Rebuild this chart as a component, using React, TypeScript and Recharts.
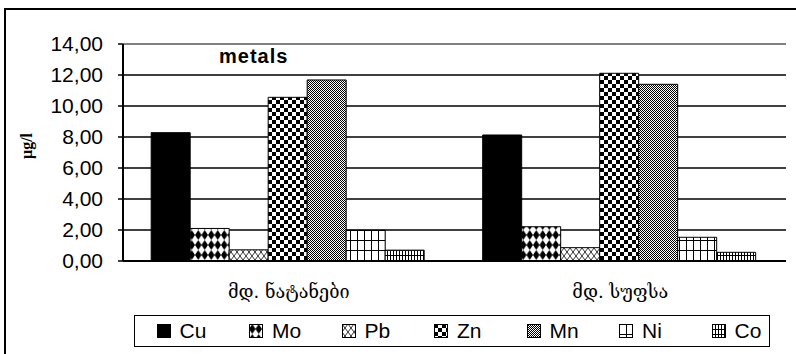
import React from "react";
import {
  BarChart,
  Bar,
  XAxis,
  YAxis,
  CartesianGrid,
  ReferenceLine,
  Legend,
} from "recharts";

const categories = ["მდ. ნატანები", "მდ. სუფსა"];
const cu = [8.28, 8.13];
const mo = [2.1, 2.21];
const pb = [0.72, 0.86];
const zn = [10.56, 12.11];
const mn = [11.68, 11.4];
const ni = [1.98, 1.53];
const co = [0.7, 0.56];
const yTicks = [0, 2, 4, 6, 8, 10, 12, 14];

const series = [
  { key: "Cu", fill: "#000" },
  { key: "Mo", fill: "url(#pMo)" },
  { key: "Pb", fill: "url(#pPb)" },
  { key: "Zn", fill: "url(#pZn)" },
  { key: "Mn", fill: "url(#pMn)" },
  { key: "Ni", fill: "url(#pNi)" },
  { key: "Co", fill: "url(#pCo)" },
];

const data = categories.map((name, i) => ({
  name,
  Cu: cu[i],
  Mo: mo[i],
  Pb: pb[i],
  Zn: zn[i],
  Mn: mn[i],
  Ni: ni[i],
  Co: co[i],
}));

const sans = "'Liberation Sans', Arial, sans-serif";
const fmt = (v: number) => v.toFixed(2).replace(".", ",");

const LegendBox = () => (
  <div
    style={{
      display: "flex",
      alignItems: "center",
      width: 636,
      height: 32,
      border: "1.5px solid #000",
      boxSizing: "border-box",
      background: "#fff",
      overflow: "hidden",
    }}
  >
    {series.map((s) => (
      <div
        key={s.key}
        style={{
          width: 92.5,
          flexShrink: 0,
          display: "flex",
          alignItems: "center",
          paddingLeft: 23,
          boxSizing: "border-box",
          marginLeft: s.key === "Cu" ? -1.5 : 0,
        }}
      >
        <svg width={14} height={14}>
          <rect x={0.5} y={0.5} width={13} height={13} fill={s.fill} stroke="#000" />
        </svg>
        <span style={{ marginLeft: 9, fontSize: 21, fontFamily: sans, lineHeight: "22px" }}>
          {s.key}
        </span>
      </div>
    ))}
  </div>
);

export default function App() {
  return (
    <div
      style={{
        position: "absolute",
        left: 0,
        top: 0,
        width: 796,
        height: 354,
        overflow: "hidden",
        background: "#fff",
      }}
    >
      <div
        style={{
          position: "absolute",
          left: 4,
          top: 8,
          width: 820,
          height: 400,
          border: "2px solid #000",
          boxSizing: "border-box",
        }}
      />
      <BarChart
        width={796}
        height={354}
        data={data}
        margin={{ top: 44, right: 10, left: 0, bottom: 0 }}
        barCategoryGap="8.5%"
        barGap={0}
      >
        <defs>
          <pattern id="pMo" width="6.5" height="10" patternUnits="userSpaceOnUse">
            <rect width="6.5" height="10" fill="#fff" />
            <polygon points="3.25,0 6.5,5 3.25,10 0,5" fill="#000" />
          </pattern>
          <pattern id="pPb" width="6" height="8" patternUnits="userSpaceOnUse">
            <rect width="6" height="8" fill="#fff" />
            <path d="M0,0 L6,8 M6,0 L0,8" stroke="#000" strokeWidth="0.8" />
          </pattern>
          <pattern id="pZn" width="8" height="8" patternUnits="userSpaceOnUse">
            <rect width="8" height="8" fill="#fff" />
            <rect width="4" height="4" fill="#000" />
            <rect x="4" y="4" width="4" height="4" fill="#000" />
          </pattern>
          <pattern id="pMn" width="2" height="2" patternUnits="userSpaceOnUse">
            <rect width="2" height="2" fill="#fff" />
            <rect width="1" height="1" fill="#000" />
            <rect x="1" y="1" width="1" height="1" fill="#000" />
          </pattern>
          <pattern id="pNi" width="7" height="10" patternUnits="userSpaceOnUse">
            <rect width="7" height="10" fill="#fff" />
            <path d="M0.5,0 L0.5,10 M0,0.5 L7,0.5" stroke="#000" strokeWidth="1" />
          </pattern>
          <pattern id="pCo" width="3" height="5" patternUnits="userSpaceOnUse">
            <rect width="3" height="5" fill="#fff" />
            <path d="M0.5,0 L0.5,5 M0,0.5 L3,0.5" stroke="#000" strokeWidth="1" />
          </pattern>
        </defs>
        <CartesianGrid
          xAxisId="cat"
          vertical={false}
          stroke="#000"
          strokeWidth={1.5}
        />
        <XAxis
          xAxisId="sep"
          type="number"
          domain={[0, 2]}
          ticks={[1]}
          height={0}
          tick={() => <g />}
          axisLine={false}
          tickSize={-5}
          tickLine={{ stroke: "#000", strokeWidth: 1.5 }}
        />
        <XAxis
          xAxisId="cat"
          dataKey="name"
          height={93}
          tickLine={false}
          tickMargin={18}
          axisLine={{ stroke: "#000", strokeWidth: 2 }}
          tick={{
            fill: "#000",
            fontSize: 18,
            fontFamily: "'DejaVu Serif', 'DejaVu Sans', serif",
          }}
        />
        <YAxis
          domain={[0, 14]}
          ticks={yTicks}
          interval={0}
          width={123}
          tickSize={5}
          tickMargin={15}
          tickFormatter={fmt}
          axisLine={{ stroke: "#000", strokeWidth: 2 }}
          tickLine={{ stroke: "#000", strokeWidth: 1.5 }}
          tick={{ fill: "#000", fontSize: 21, fontFamily: sans }}
        />
        <YAxis
          yAxisId="r"
          orientation="right"
          width={0}
          tick={false}
          tickLine={false}
          axisLine={{ stroke: "#808080", strokeWidth: 2 }}
        />
        <ReferenceLine xAxisId="cat" y={14} stroke="#808080" strokeWidth={2} />
        {series.map((s) => (
          <Bar
            key={s.key}
            xAxisId="cat"
            dataKey={s.key}
            fill={s.fill}
            stroke="#000"
            strokeWidth={1}
            isAnimationActive={false}
          />
        ))}
        <Legend
          verticalAlign="middle"
          align="center"
          layout="horizontal"
          content={() => <LegendBox />}
          wrapperStyle={{ left: 134, top: 315, width: 636, height: 32 }}
        />
      </BarChart>
      <div
        style={{
          position: "absolute",
          left: 219,
          top: 46,
          fontFamily: sans,
          fontWeight: "bold",
          fontSize: 20,
          letterSpacing: 1,
          lineHeight: "20px",
        }}
      >
        metals
      </div>
      <div
        style={{
          position: "absolute",
          left: 27,
          top: 146,
          transform: "translate(-50%, -50%) rotate(-90deg)",
          fontFamily: "'Liberation Serif', 'Times New Roman', serif",
          fontWeight: "bold",
          fontSize: 16,
          whiteSpace: "nowrap",
        }}
      >
        µg/l
      </div>
    </div>
  );
}
